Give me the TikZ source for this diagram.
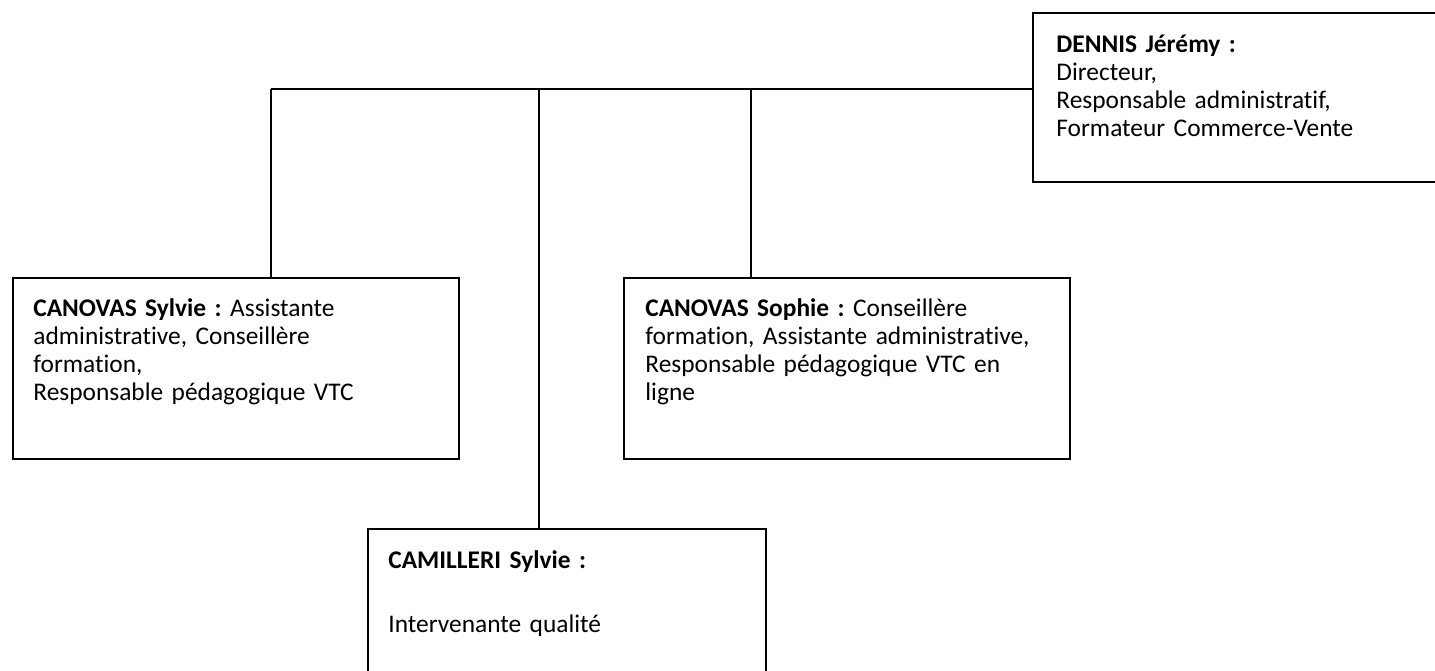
\documentclass[tikz,border=0pt]{standalone}
\usepackage{fontspec}
\setmainfont{Carlito}[RawFeature={-liga;-clig;-calt}]
\frenchspacing
\begin{document}
\begin{tikzpicture}[x=0.5pt, y=-0.5pt,
    kasten/.style={draw, line width=0.9pt, rectangle, inner sep=0pt, anchor=north west},
    beschriftung/.style={anchor=base west, inner sep=0pt, text width=260pt,
        font=\fontsize{12.7pt}{14pt}\selectfont},
    linie/.style={line width=0.9pt}]
    \useasboundingbox (0,0) rectangle (1435,670);

    % Kästen
    \node[kasten, minimum width=250pt, minimum height=84.5pt] (dennis) at (1032,12) {};
    \node[kasten, minimum width=223pt, minimum height=90.5pt] (sylvie) at (12,277) {};
    \node[kasten, minimum width=223pt, minimum height=90.5pt] (sophie) at (623,277) {};
    \node[kasten, minimum width=199pt, minimum height=90pt] (camilleri) at (367,528) {};

    % Texte
    \node[beschriftung] (dennistext) at (1056,52) {\textbf{DENNIS Jérémy :}\\Directeur,\\Responsable administratif,\\Formateur Commerce-Vente};
    \node[beschriftung] (sylvietext) at (33,316) {\textbf{CANOVAS Sylvie :} Assistante\\administrative, Conseillère\\formation,\\Responsable pédagogique VTC};
    \node[beschriftung] (sophietext) at (645,316) {\textbf{CANOVAS Sophie :} Conseillère\\formation, Assistante administrative,\\Responsable pédagogique VTC en\\ligne};
    \node[beschriftung] (camilleritext) at (388,568) {\textbf{CAMILLERI Sylvie :}\\[18pt]Intervenante qualité};

    % Verbindungen
    \coordinate (abzweigA) at (271,89);
    \coordinate (abzweigB) at (539,89);
    \coordinate (abzweigC) at (751,89);
    \draw[linie] (abzweigA) -- (abzweigA -| dennis.west);
    \draw[linie] (abzweigA) -- (abzweigA |- sylvie.north);
    \draw[linie] (abzweigB) -- (abzweigB |- camilleri.north);
    \draw[linie] (abzweigC) -- (abzweigC |- sophie.north);
\end{tikzpicture}
\end{document}
